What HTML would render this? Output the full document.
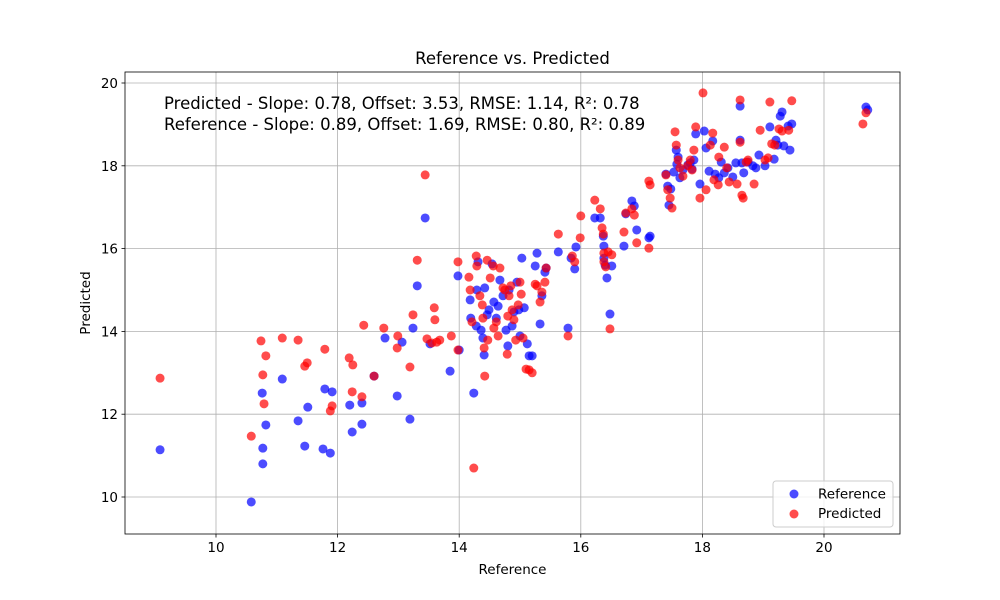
<!DOCTYPE html>
<html><head><meta charset="utf-8">
<style>
html,body{margin:0;padding:0;background:#fff;}
svg{display:block;font-family:"DejaVu Sans","Liberation Sans",sans-serif;}
</style></head>
<body>
<svg id="chart" width="1000" height="600" xmlns="http://www.w3.org/2000/svg">
<rect width="1000" height="600" fill="#fff"/>
<g id="grid"></g>
<g id="axes"></g>
<g id="marks"></g>
<text x="512.5" y="64" text-anchor="middle" font-size="16.5">Reference vs. Predicted</text>
<text x="512.5" y="574" text-anchor="middle" font-size="13.5">Reference</text>
<text transform="translate(90,303) rotate(-90)" text-anchor="middle" font-size="13.5">Predicted</text>
<text x="164" y="109" font-size="16.5">Predicted - Slope: 0.78, Offset: 3.53, RMSE: 1.14, R²: 0.78</text>
<text x="164" y="130" font-size="16.5">Reference - Slope: 0.89, Offset: 1.69, RMSE: 0.80, R²: 0.89</text>
<g>
<rect x="773" y="481" width="120" height="46" rx="3" fill="#fff" fill-opacity="0.8" stroke="#ccc"/>
<circle cx="794" cy="494" r="4.5" fill="rgba(0,0,255,0.7)"/>
<text x="818" y="498.5" font-size="13.5">Reference</text>
<circle cx="794" cy="514" r="4.5" fill="rgba(255,0,0,0.7)"/>
<text x="818" y="518" font-size="13.5">Predicted</text>
</g>
</svg>
<script>
const xTicks=[10,12,14,16,18,20];
const yTicks=[10,12,14,16,18,20];
const refX=[9.08,10.58,10.77,10.77,10.82,10.76,11.09,11.35,11.46,11.51,11.76,11.88,11.79,11.91,12.20,12.24,12.40,12.40,12.60,12.78,12.98,13.06,13.19,13.24,13.31,13.44,13.52,13.85,13.98,14.00,14.18,14.19,14.24,14.28,14.29,14.31,14.36,14.39,14.41,14.42,14.46,14.49,14.54,14.57,14.61,14.64,14.67,14.72,14.77,14.80,14.82,14.87,14.90,14.95,14.98,15.00,15.03,15.07,15.12,15.15,15.20,15.25,15.28,15.33,15.36,15.41,15.43,15.63,15.79,15.84,15.90,15.92,16.23,16.32,16.37,16.38,16.38,16.40,16.43,16.48,16.51,16.71,16.74,16.84,16.88,16.92,17.12,17.14,17.40,17.43,17.45,17.48,17.53,17.57,17.58,17.60,17.63,17.68,17.76,17.80,17.83,17.86,17.89,17.96,18.03,18.06,18.11,18.17,18.21,18.27,18.31,18.36,18.42,18.50,18.55,18.62,18.62,18.65,18.68,18.75,18.83,18.88,18.93,19.03,19.11,19.18,19.21,19.24,19.28,19.31,19.34,19.41,19.44,19.47,20.69,20.72];
const refY=[11.14,9.88,11.18,10.80,11.74,12.51,12.85,11.84,11.23,12.17,11.16,11.06,12.61,12.54,12.22,11.57,11.76,12.27,12.92,13.84,12.44,13.74,11.88,14.08,15.10,16.74,13.70,13.04,15.34,13.55,14.76,14.32,12.51,14.13,15.00,15.68,14.03,13.84,13.43,15.05,14.40,14.52,15.63,14.71,14.32,14.61,15.24,14.86,14.03,13.65,15.00,14.13,14.47,15.19,14.52,13.89,15.77,14.57,13.70,13.41,13.41,15.58,15.89,14.18,14.86,15.43,15.53,15.92,14.08,15.77,15.51,16.04,16.74,16.74,16.30,16.06,15.77,15.60,15.29,14.42,15.58,16.06,16.84,17.15,17.03,16.45,16.26,16.30,17.80,17.51,17.05,17.44,17.85,18.38,18.04,18.21,17.71,17.90,18.02,18.07,17.92,18.14,18.77,17.56,18.84,18.43,17.87,18.60,17.80,17.71,18.09,17.83,17.95,17.73,18.07,19.44,18.62,18.07,17.83,18.09,18.00,17.95,18.26,18.00,18.94,18.16,18.62,18.50,19.20,19.30,18.48,18.96,18.38,19.01,19.42,19.35];
const predX=[9.08,10.58,10.74,10.77,10.79,10.82,11.09,11.35,11.46,11.50,11.79,11.88,11.91,12.19,12.24,12.25,12.40,12.43,12.60,12.76,12.98,12.99,13.19,13.24,13.31,13.44,13.47,13.55,13.59,13.60,13.63,13.68,13.87,13.98,13.98,14.16,14.18,14.21,14.24,14.28,14.29,14.34,14.38,14.39,14.41,14.42,14.46,14.47,14.51,14.56,14.57,14.61,14.64,14.67,14.72,14.75,14.79,14.80,14.82,14.85,14.87,14.90,14.93,14.97,15.00,15.02,15.05,15.10,15.15,15.20,15.25,15.28,15.33,15.36,15.41,15.43,15.63,15.79,15.86,15.90,15.99,16.00,16.23,16.32,16.35,16.37,16.38,16.38,16.41,16.45,16.48,16.51,16.71,16.74,16.84,16.88,16.92,17.12,17.12,17.14,17.40,17.43,17.47,17.50,17.55,17.57,17.60,17.63,17.68,17.76,17.80,17.83,17.86,17.89,17.96,18.01,18.06,18.13,18.17,18.19,18.26,18.27,18.36,18.40,18.44,18.57,18.62,18.62,18.65,18.67,18.72,18.75,18.85,18.95,19.03,19.08,19.11,19.14,19.19,19.26,19.31,19.42,19.47,20.64,20.69];
const predY=[12.87,11.47,13.77,12.95,12.25,13.41,13.84,13.79,13.16,13.24,13.57,12.08,12.20,13.36,12.54,13.19,12.42,14.15,12.92,14.08,13.60,13.89,13.14,14.40,15.72,17.78,13.82,13.72,14.57,14.28,13.74,13.79,13.89,13.55,15.68,15.31,15.00,14.23,10.70,15.82,15.58,14.86,14.64,14.32,13.60,12.92,15.72,13.79,15.29,15.58,14.08,14.23,13.89,15.53,15.05,15.00,13.45,14.37,14.86,15.10,14.52,14.28,13.79,14.64,15.19,14.90,13.84,13.09,13.07,13.00,15.14,15.10,14.71,14.95,15.19,15.53,16.35,13.89,15.82,15.68,16.26,16.79,17.17,16.96,16.50,16.35,15.89,15.68,15.56,15.92,14.06,15.85,16.40,16.86,16.96,16.81,16.14,16.01,17.63,17.54,17.78,17.42,17.22,16.98,18.82,18.50,18.14,17.95,17.75,18.00,18.14,17.90,18.38,18.94,17.22,19.76,17.42,18.50,18.79,17.66,17.54,18.21,18.45,17.95,17.61,17.56,19.59,18.57,17.29,17.22,18.09,18.14,17.56,18.86,18.14,18.19,19.54,18.53,18.50,18.89,18.84,18.86,19.57,19.01,19.28];

const L=125,R=900,T=72,B=534;
function sx(v){return 216+(v-10)*60.8;}
function sy(v){return 497-(v-10)*41.4;}
const NS='http://www.w3.org/2000/svg';
function mk(tag,attrs,parent){const e=document.createElementNS(NS,tag);for(const k in attrs)e.setAttribute(k,attrs[k]);parent.appendChild(e);return e;}
const grid=document.getElementById('grid'),axes=document.getElementById('axes'),marks=document.getElementById('marks');
xTicks.forEach(t=>{
  const x=sx(t);
  const g=mk('line',{x1:x,x2:x,y1:T,y2:B,stroke:'#b0b0b0','stroke-width':0.8},grid);
  
  
  mk('line',{x1:x,x2:x,y1:B,y2:B+3.5,stroke:'#000','stroke-width':0.8},axes);
  const tx=mk('text',{x:x,y:B+18,'text-anchor':'middle','font-size':13.5},axes);
  tx.textContent=t;
  
  
});
yTicks.forEach(t=>{
  const y=sy(t);
  const g=mk('line',{x1:L,x2:R,y1:y,y2:y,stroke:'#b0b0b0','stroke-width':0.8},grid);
  
  
  mk('line',{x1:L-3.5,x2:L,y1:y,y2:y,stroke:'#000','stroke-width':0.8},axes);
  const tx=mk('text',{x:L-7,y:y+5,'text-anchor':'end','font-size':13.5},axes);
  tx.textContent=t;
  
  
});
const frame=mk('rect',{x:L,y:T,width:R-L,height:B-T,fill:'none',stroke:'#000','stroke-width':0.8},axes);


refX.forEach((v,i)=>{
  const c=mk('circle',{cx:sx(v),cy:sy(refY[i]),r:4.5,fill:'rgba(0,0,255,0.7)'},marks);
  
  
});
predX.forEach((v,i)=>{
  const c=mk('circle',{cx:sx(v),cy:sy(predY[i]),r:4.5,fill:'rgba(255,0,0,0.7)'},marks);
  
  
});
</script>
</body></html>
